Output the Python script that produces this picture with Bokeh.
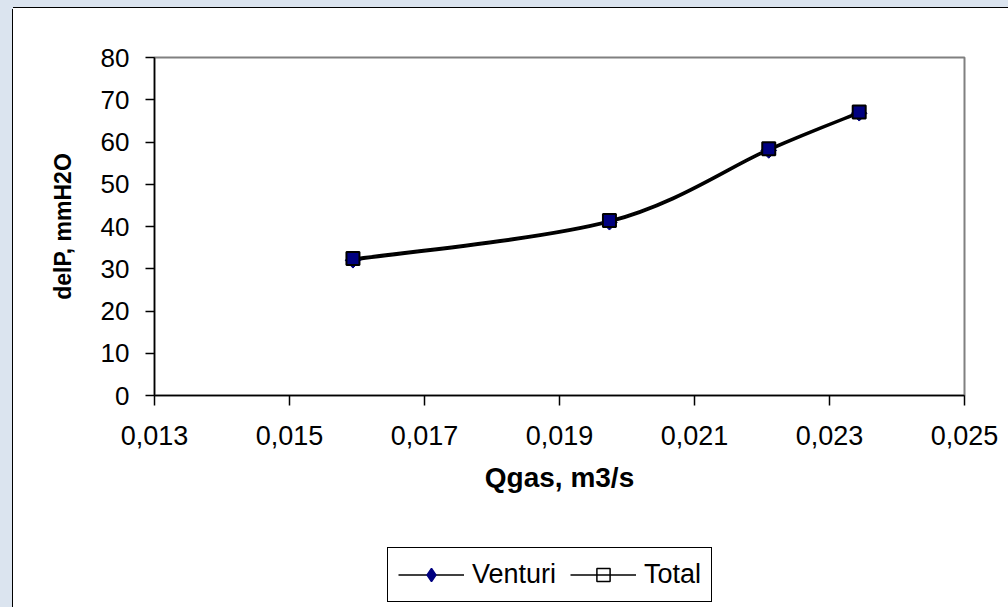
import math
from bokeh.plotting import figure
from bokeh.layouts import column
from bokeh.models import FixedTicker, Legend, LegendItem
from bokeh.embed import file_html
from bokeh.resources import INLINE

# ---- data ----
q_gas = [0.01594, 0.01974, 0.02210, 0.02344]
venturi = [32.0, 41.0, 58.0, 66.8]
total = [32.4, 41.4, 58.4, 67.1]

x_ticks = [0.013, 0.015, 0.017, 0.019, 0.021, 0.023, 0.025]
x_tick_labels = ["0,013", "0,015", "0,017", "0,019", "0,021", "0,023", "0,025"]
y_ticks = [0, 10, 20, 30, 40, 50, 60, 70, 80]

x_title = "Qgas, m3/s"
y_title = "delP, mmH2O"
series_names = ["Venturi", "Total"]

FONT = "Liberation Sans"
NAVY = "#000080"
SLIDE = "#dbe4ef"
LEFT_STRIP = f"linear-gradient(to right, {SLIDE} 0 12px, black 12px 13.5px, white 13.5px)"

p = figure(width=1008, height=530, output_backend="svg", toolbar_location=None,
           x_range=(0.013, 0.025), y_range=(0, 80),
           min_border_left=154, min_border_right=44, min_border_top=57,
           min_border_bottom=135)
p.background_fill_color = "white"
p.border_fill_color = None
p.outline_line_color = "#808080"
p.outline_line_width = 2
p.xgrid.visible = False
p.ygrid.visible = False
p.styles = {
    "background": (
        f"linear-gradient({SLIDE}, {SLIDE}) 0 0 / 13px 9px no-repeat, "
        f"linear-gradient(to bottom, {SLIDE} 0 7px, black 7px 8.5px, transparent 8.5px), "
        + LEFT_STRIP
    )
}

for ax in (p.xaxis[0], p.yaxis[0]):
    ax.axis_line_color = "black"
    ax.axis_line_width = 1.5
    ax.major_tick_line_color = "black"
    ax.major_tick_line_width = 1.5
    ax.minor_tick_line_color = None
    ax.major_tick_in = 0
    ax.major_label_text_font = FONT
    ax.major_label_text_color = "black"
    ax.axis_label_text_font = FONT
    ax.axis_label_text_font_style = "bold"
    ax.axis_label_text_color = "black"

p.xaxis.ticker = FixedTicker(ticks=x_ticks)
p.xaxis.major_label_overrides = {t: l for t, l in zip(x_ticks, x_tick_labels)}
p.xaxis.major_label_text_font_size = "27px"
p.xaxis.major_tick_out = 10
p.xaxis.major_label_standoff = 20
p.xaxis.axis_label = x_title
p.xaxis.axis_label_text_font_size = "28px"
p.xaxis.axis_label_standoff = 14

p.yaxis.ticker = FixedTicker(ticks=y_ticks)
p.yaxis.major_label_text_font_size = "26px"
p.yaxis.major_tick_out = 9
p.yaxis.major_label_standoff = 16
p.yaxis.axis_label = y_title
p.yaxis.axis_label_text_font_size = "23px"
p.yaxis.axis_label_standoff = 22


def smooth(xs, ys):
    n = len(xs)
    x0, y0, x1, y1, cx0, cy0, cx1, cy1 = [], [], [], [], [], [], [], []
    for i in range(n - 1):
        pa = max(i - 1, 0)
        pd = min(i + 2, n - 1)
        x0.append(xs[i]); y0.append(ys[i])
        x1.append(xs[i + 1]); y1.append(ys[i + 1])
        cx0.append(xs[i] + (xs[i + 1] - xs[pa]) / 6)
        cy0.append(ys[i] + (ys[i + 1] - ys[pa]) / 6)
        cx1.append(xs[i + 1] - (xs[pd] - xs[i]) / 6)
        cy1.append(ys[i + 1] - (ys[pd] - ys[i]) / 6)
    return dict(x0=x0, y0=y0, x1=x1, y1=y1, cx0=cx0, cy0=cy0, cx1=cx1, cy1=cy1)


p.bezier(**smooth(q_gas, venturi), line_color="black", line_width=2.2)
p.bezier(**smooth(q_gas, total), line_color="black", line_width=2.2)
p.scatter(q_gas, total, marker="square", size=13, fill_color=NAVY, line_color=None)
p.scatter(q_gas, venturi, marker="square", angle=math.pi / 4, size=11,
          fill_color=NAVY, line_color=NAVY, line_width=1)
p.scatter(q_gas, total, marker="square", size=13,
          fill_color=None, line_color="black", line_width=2)

# ---- legend strip (separate figure so the legend is not clipped) ----
lg = figure(width=1008, height=77, output_backend="svg", toolbar_location=None,
            x_range=(0, 1), y_range=(-2, -1), x_axis_type=None, y_axis_type=None,
            min_border_left=0, min_border_right=0, min_border_top=0, min_border_bottom=0)
lg.background_fill_color = None
lg.border_fill_color = None
lg.outline_line_color = None
lg.xgrid.visible = False
lg.ygrid.visible = False
lg.styles = {"background": LEFT_STRIP}

# legend glyph proxies (their points fall outside this strip's ranges)
lv = lg.line(q_gas, venturi, line_color="black", line_width=1.5)
mv = lg.scatter(q_gas, venturi, marker="diamond", size=11,
                fill_color=NAVY, line_color=NAVY, line_width=1.5)
lt = lg.line(q_gas, total, line_color="black", line_width=1.5)
mt = lg.scatter(q_gas, total, marker="square", size=9,
                fill_color=None, line_color="black", line_width=1.5)

legend = Legend(items=[LegendItem(label=series_names[0], renderers=[lv, mv]),
                       LegendItem(label=series_names[1], renderers=[lt, mt])],
                orientation="horizontal", location=(233, 5))
legend.label_text_font = FONT
legend.label_text_font_size = "27px"
legend.label_text_color = "black"
legend.glyph_width = 66
legend.glyph_height = 33
legend.label_standoff = 8
legend.spacing = 14
legend.padding = 10
legend.margin = 0
legend.border_line_color = "black"
legend.border_line_alpha = 1
legend.border_line_width = 1
legend.background_fill_color = "white"
legend.background_fill_alpha = 1
lg.add_layout(legend, "center")

page = column(p, lg, spacing=0)
open("out.html", "w").write(file_html(page, INLINE))
